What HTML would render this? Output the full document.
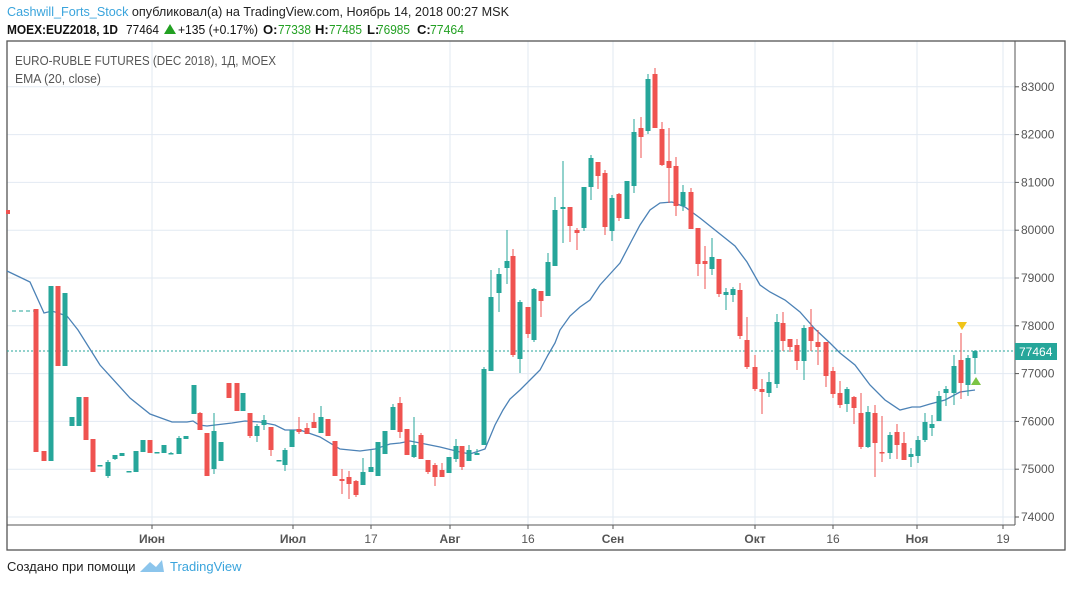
<!DOCTYPE html>
<html><head><meta charset="utf-8"><style>
body{margin:0;background:#fff;width:1073px;height:587px;overflow:hidden;font-family:"Liberation Sans",sans-serif}
</style></head><body>
<svg width="1073" height="587" xmlns="http://www.w3.org/2000/svg" font-family="Liberation Sans, sans-serif">
<text x="7" y="16" font-size="13" fill="#3aa4dc" textLength="502" lengthAdjust="spacingAndGlyphs">Cashwill_Forts_Stock <tspan fill="#222">опубликовал(а) на TradingView.com, Ноябрь 14, 2018 00:27 MSK</tspan></text>
<g font-size="13" fill="#111">
<text x="7" y="34" font-weight="bold" textLength="111" lengthAdjust="spacingAndGlyphs">MOEX:EUZ2018, 1D</text>
<text x="126" y="34" textLength="33" lengthAdjust="spacingAndGlyphs">77464</text>
<text x="178" y="34" textLength="80" lengthAdjust="spacingAndGlyphs">+135 (+0.17%)</text>
<text x="263" y="34" font-weight="bold">O:</text><text x="278" y="34" fill="#22a022" textLength="33" lengthAdjust="spacingAndGlyphs">77338</text>
<text x="315" y="34" font-weight="bold">H:</text><text x="329" y="34" fill="#22a022" textLength="33" lengthAdjust="spacingAndGlyphs">77485</text>
<text x="367" y="34" font-weight="bold">L:</text><text x="377" y="34" fill="#22a022" textLength="33" lengthAdjust="spacingAndGlyphs">76985</text>
<text x="417" y="34" font-weight="bold">C:</text><text x="430" y="34" fill="#22a022" textLength="34" lengthAdjust="spacingAndGlyphs">77464</text>
</g>
<polygon points="164,34 170,24 176,34" fill="#22a022"/>
<g id="grid" stroke="#e2eaf2" stroke-width="1"></g>
<rect x="7" y="41" width="1058" height="509" fill="none" stroke="#555" stroke-width="1.3"/>
<line x1="1015" y1="41" x2="1015" y2="525" stroke="#555"/>
<line x1="7" y1="525" x2="1015" y2="525" stroke="#555"/>
<text x="15" y="65" font-size="13" fill="#555" textLength="261" lengthAdjust="spacingAndGlyphs">EURO-RUBLE FUTURES (DEC 2018), 1Д, MOEX</text>
<text x="15" y="83" font-size="13" fill="#555" textLength="86" lengthAdjust="spacingAndGlyphs">EMA (20, close)</text>
<g id="ax" font-size="12" fill="#555"></g>
<line x1="12" y1="311" x2="34" y2="311" stroke="#26a69a" stroke-dasharray="4,3"/>
<rect x="6" y="210" width="4" height="4" fill="#ef5350"/>
<line x1="7" y1="351" x2="1015" y2="351" stroke="#26a69a" stroke-dasharray="2,2"/>
<polyline fill="none" stroke="#4c82b6" stroke-width="1.3" points="7,271 30,282 44,313 52,311 67,316 78,330 100,365 130,398 150,414 172,422 187,422 193,421 199,425 207,426 215,425 232,423 245,421 260,422 275,425 285,430 300,430 320,437 340,449 360,451 375,449 390,444 400,443 410,441 420,443 440,447 460,452 470,454 485,449 495,425 503,410 510,399 520,390 530,380 540,370 548,355 555,343 560,330 570,316 580,307 590,300 600,285 610,274 620,263 632,240 640,225 650,210 660,203 672,202 685,207 700,218 720,234 735,246 747,262 760,285 770,292 785,300 800,312 815,329 830,343 840,353 855,365 870,385 885,400 900,410 912,407 920,407 930,404 945,400 960,392 975,390"/>
<g id="c"></g>
<polygon points="957,322 967,322 962,330" fill="#f0c419"/>
<polygon points="971,385 981,385 976,377" fill="#7cc444"/>
<rect x="1015" y="343" width="42" height="17" fill="#26a69a"/>
<text x="1019" y="356" font-size="12" fill="#fff">77464</text>
<text x="7" y="571" font-size="13" fill="#222">Создано при помощи</text>
<path d="M140,572 L150,562 L156,567 L162,560 L164,572 Z" fill="#8cc5ec"/>
<text x="170" y="571" font-size="13" fill="#3aa4dc">TradingView</text>
</svg>
<script>
const NS="http://www.w3.org/2000/svg";
function el(p,t,a,txt){const e=document.createElementNS(NS,t);for(const k in a)e.setAttribute(k,a[k]);if(txt)e.textContent=txt;p.appendChild(e);}
const g=document.getElementById('grid'),ax=document.getElementById('ax');
for(let i=0;i<=9;i++){const y=517-i*47.8;el(g,'line',{x1:7,x2:1015,y1:y,y2:y});el(ax,'line',{x1:1015,x2:1019,y1:y,y2:y,stroke:'#555'});el(ax,'text',{x:1021,y:y+4},String(74000+i*1000));}
[[152,'Июн'],[293,'Июл'],[371,'17'],[450,'Авг'],[528,'16'],[613,'Сен'],[755,'Окт'],[833,'16'],[917,'Ноя'],[1003,'19']].forEach(([x,t])=>{el(g,'line',{x1:x,x2:x,y1:41,y2:525});el(ax,'line',{x1:x,x2:x,y1:525,y2:529,stroke:'#555'});el(ax,'text',{x:x,y:543,'text-anchor':'middle','font-weight':/\d/.test(t)?'normal':'bold'},t);});
const C=`36 309 452 309 452 r;44 451 461 451 461 r;51 286 461 286 461 g;58 286 366 286 366 r;65 293 366 293 366 g;72 417 426 417 426 g;79 397 426 397 426 g;86 397 440 397 440 r;93 439 472 439 472 r;100 465 466 465 466 g;108 462 476 460 478 g;115 455 459 455 460 g;122 453 456 453 456 g;129 471 472 471 472 g;136 451 472 451 472 g;143 440 452 440 452 g;150 440 453 440 453 r;157 452 453 452 453 g;164 445 453 445 453 g;171 453 454 452 454 g;179 438 454 436 454 g;186 436 439 436 439 g;194 385 414 385 414 g;200 413 430 412 430 r;207 433 476 433 476 r;214 431 469 413 474 g;221 442 461 442 461 g;229 383 398 383 398 r;237 383 411 383 411 r;243 393 411 393 411 g;250 413 436 413 438 r;257 426 436 424 442 g;264 420 425 415 430 g;271 427 450 427 456 r;279 460 461 460 461 g;285 450 465 448 471 g;292 430 447 430 447 g;299 429 432 417 434 r;307 428 434 423 434 r;314 422 428 413 428 r;321 417 433 406 433 g;328 419 436 419 436 r;335 441 476 441 476 r;342 479 481 469 494 r;349 477 484 471 499 r;356 481 495 480 497 r;363 472 485 458 485 g;371 467 472 450 472 g;378 442 476 442 476 g;385 431 454 431 454 g;393 407 430 404 430 g;400 403 432 397 438 r;407 429 455 429 455 r;414 445 457 417 458 g;421 435 459 433 459 r;428 460 472 460 474 r;435 465 477 463 486 r;442 470 477 463 477 r;449 457 473 457 473 g;456 446 459 439 462 g;462 446 467 446 470 r;469 450 461 445 461 g;477 453 455 449 455 g;484 369 445 367 445 g;491 297 371 270 371 g;499 274 293 268 312 g;507 261 268 230 284 g;513 256 355 249 357 r;520 302 359 300 373 g;528 307 334 307 338 r;534 289 340 288 342 g;541 291 301 291 317 r;548 262 296 253 296 g;555 210 266 197 266 g;563 207 209 161 243 g;570 207 226 207 242 r;577 230 233 228 250 r;584 187 228 187 231 g;591 158 187 155 200 g;598 162 176 162 189 r;605 173 227 170 235 r;612 198 231 195 241 g;619 194 218 193 221 r;627 181 219 181 219 g;634 132 186 119 193 g;641 128 137 117 158 r;648 79 131 74 134 g;655 74 128 68 128 r;662 129 165 122 166 r;669 161 168 128 203 r;676 166 206 157 216 r;683 192 206 185 211 g;691 192 229 188 229 r;698 228 264 228 276 r;705 261 264 246 289 r;712 257 269 238 275 g;719 259 294 259 297 r;726 292 295 288 310 g;733 289 295 287 302 g;740 290 336 283 339 r;747 340 367 317 369 r;755 367 389 355 391 r;762 389 392 379 414 r;769 382 393 372 397 g;777 322 384 314 388 g;783 323 341 312 351 r;790 339 347 339 352 r;797 345 361 339 370 r;804 328 361 325 380 g;811 327 341 309 351 r;818 342 347 330 365 r;826 342 376 342 387 r;833 371 394 367 398 r;840 393 405 381 408 r;847 389 404 387 412 g;854 397 408 396 424 r;861 413 447 393 449 r;868 412 447 406 448 g;875 413 443 405 477 r;882 452 453 416 462 r;890 435 453 432 459 g;897 432 445 424 459 r;904 443 460 432 460 r;911 454 457 448 467 g;918 440 456 436 463 g;925 422 440 413 442 g;932 424 428 415 436 g;939 396 421 391 421 g;946 389 393 386 406 g;954 366 393 355 405 g;961 360 383 333 399 r;968 358 385 355 396 g;975 351 358 350 374 g`;
const cg=document.getElementById('c');
C.split(';').forEach(s=>{const [x,t,b,wt,wb,c]=s.trim().split(' ');const col=c==='g'?'#26a69a':'#ef5350';const X=+x;
el(cg,'line',{x1:X,x2:X,y1:wt,y2:wb,stroke:col,'stroke-width':1});
el(cg,'rect',{x:X-2.5,y:+t,width:5,height:Math.max(1.5,b-t),fill:col});});
</script>
</body></html>
